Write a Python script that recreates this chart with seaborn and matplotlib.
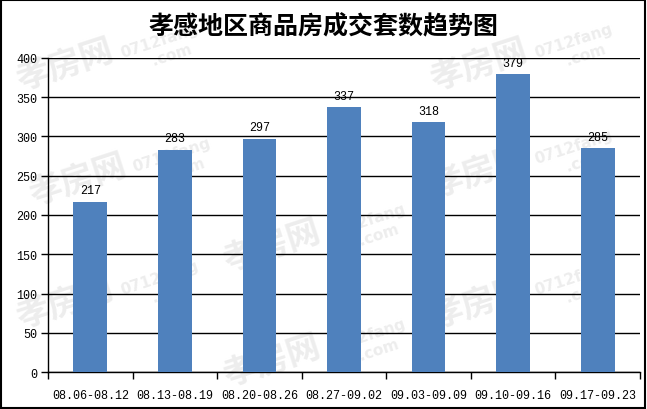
import matplotlib
matplotlib.use("Agg")
import matplotlib.pyplot as plt
import seaborn as sns
import pandas as pd

categories = ["08.06-08.12", "08.13-08.19", "08.20-08.26", "08.27-09.02",
              "09.03-09.09", "09.10-09.16", "09.17-09.23"]
values = [217, 283, 297, 337, 318, 379, 285]
yticks = [0, 50, 100, 150, 200, 250, 300, 350, 400]
title = "孝感地区商品房成交套数趋势图"

sns.set_theme(style="white")
plt.rcParams['font.family'] = ['Noto Sans CJK SC', 'DejaVu Sans']

df = pd.DataFrame({"week": categories, "count": values})

fig = plt.figure(figsize=(6.47, 4.10), dpi=100)
fig.patch.set_facecolor("white")

# watermarks (drawn beneath the axes)
wm_pos = [(0.10, 0.84), (0.74, 0.84), (0.12, 0.56), (0.42, 0.40),
          (0.74, 0.58), (0.10, 0.26), (0.42, 0.12), (0.74, 0.26)]
for (x, y) in wm_pos:
    fig.text(x, y, "孝房网", fontsize=24, color="#ededed", rotation=18,
             ha="center", va="center", fontweight="bold", zorder=-5)
    fig.text(x + 0.15, y + 0.04, "0712fang\n   .com", fontsize=11, color="#ededed",
             rotation=18, ha="center", va="center", fontweight="bold", zorder=-5,
             family=["DejaVu Sans"])

ax = fig.add_axes([0.0742, 0.0902, 0.915, 0.766])
ax.set_facecolor("none")
ax.set_zorder(1)
sns.barplot(data=df, x="week", y="count", color="#4F81BD", saturation=1,
            width=0.4, ax=ax, zorder=3, linewidth=0, edgecolor="none")

ax.set_ylim(0, 400)
ax.set_yticks(yticks)
ax.set_xlim(-0.5, len(categories) - 0.5)
ax.yaxis.grid(True, color="black", linewidth=1)
ax.set_axisbelow(True)
for s in ["top", "right"]:
    ax.spines[s].set_visible(False)
for s in ["left", "bottom"]:
    ax.spines[s].set_color("black")
    ax.spines[s].set_linewidth(1)
ax.set_xlabel("")
ax.set_ylabel("")
ax.tick_params(axis="both", which="both", direction="out", length=5, width=1,
               color="black", labelsize=8.5, labelcolor="black")
ax.tick_params(axis="y", left=True, pad=3)
ax.tick_params(axis="x", bottom=False, pad=7)
# x ticks at category boundaries
ax.set_xticks([i + 0.5 for i in range(-1, len(categories))], minor=True)
ax.tick_params(axis="x", which="minor", bottom=True, length=5, width=1, color="black")
for lbl in ax.get_xticklabels() + ax.get_yticklabels():
    lbl.set_family(["Liberation Mono"])

for c in ax.containers:
    ax.bar_label(c, labels=[str(v) for v in values], padding=4, fontsize=8.5,
                 color="black", family=["Liberation Mono"])

fig.text(0.5, 0.935, title, ha="center", va="center", fontsize=18,
         fontweight="bold", color="black")

border = plt.Rectangle((0.002, 0.003), 0.995, 0.994, transform=fig.transFigure,
                       fill=False, edgecolor="black", linewidth=1.5)
fig.patches.append(border)

fig.savefig("out.png", dpi=100)
